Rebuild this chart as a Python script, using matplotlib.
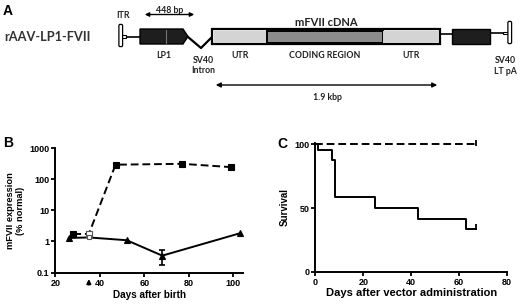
import numpy as np
import matplotlib.pyplot as plt
from matplotlib.patches import Polygon, Rectangle, FancyBboxPatch

# ---- panel A: construct layout (pixel units along the construct) ----
part_names = ["LP1", "UTR", "CODING REGION", "UTR", ""]
part_start = [140, 214, 267, 383, 452]
part_end = [188, 267, 383, 439, 490]
part_color = ["#1e1e1e", "#d4d4d4", "#8c8c8c", "#d4d4d4", "#1e1e1e"]
cdna_span = (212, 440)

# ---- panel B: mFVII expression ----
days_treated = [28, 35, 47, 77, 99]
fvii_treated = [1.75, 1.75, 300, 320, 250]
days_control = [26, 35, 52, 68, 103]
fvii_control = [1.3, 1.35, 1.1, 0.35, 1.85]
err_day = 68
err_low, err_high = 0.18, 0.54
vector_day = 35

# ---- panel C: survival ----
surv_treated_t = [0, 67]
surv_treated = [100, 100]
surv_control_t = [0, 1, 7, 8, 25, 43, 63, 67]
surv_control = [100, 95.8, 87.5, 58.3, 50, 41.7, 33.3, 33.3]

fig = plt.figure(figsize=(5.2, 3.04), dpi=100)

# overlay axes in pixel coordinates for the diagram
axA = fig.add_axes([0, 0, 1, 1])
axA.set_xlim(0, 520)
axA.set_ylim(304, 0)
axA.axis("off")

dfont = dict(family="Lato", weight="bold", color="#222222")
axA.text(3, 11, "A", fontsize=10, va="center", ha="left", family="Liberation Sans", weight="bold")
axA.text(4, 37, "rAAV-LP1-FVII", fontsize=9.2, va="center", ha="left", family="Lato", weight="bold", color="#333333")

yt, yb = 29, 44
ymid = 36.5
# backbone lines
axA.plot([124, 140], [ymid, ymid], color="black", lw=1.2, zorder=1)
axA.plot([440, 452], [34, 34], color="black", lw=1.2, zorder=1)
axA.plot([490, 508], [33, 33], color="black", lw=1.2, zorder=1)
# SV40 intron V
axA.plot([188, 201, 212], [37, 48, 37], color="black", lw=1.6, zorder=1)

# ITRs
for xi, y0, y1, ys, x2 in [(119.5, 25, 46, 36.5, 126), (508.5, 22, 43, 33, 503)]:
    axA.add_patch(FancyBboxPatch((xi, y0), 2.5, y1 - y0, boxstyle="round,pad=0.6,rounding_size=1.3",
                                 fc="white", ec="black", lw=0.9, zorder=3))
    axA.add_patch(Rectangle((min(xi + 1.25, x2), ys - 1.2), abs(x2 - xi - 1.25), 2.4,
                            fc="white", ec="black", lw=0.8, zorder=2))

# cDNA outer box
axA.add_patch(Rectangle((cdna_span[0], yt), cdna_span[1] - cdna_span[0], yb - yt,
                        fc="white", ec="black", lw=1.6, zorder=2))
for name, s, e, c in zip(part_names, part_start, part_end, part_color):
    if name == "LP1":
        axA.add_patch(Polygon([(s, yt), (e - 5, yt), (e, ymid), (e - 5, yb), (s, yb)],
                              closed=True, fc=c, ec="black", lw=1.0, zorder=3))
        axA.plot([166, 166], [yt + 1, yb - 1], color="#777777", lw=0.8, zorder=4)
    elif c == "#1e1e1e":
        axA.add_patch(Rectangle((s, yt), e - s, yb - yt, fc=c, ec="black", lw=1.0, zorder=3))
    else:
        axA.add_patch(Rectangle((s, yt + 1.5), e - s, yb - yt - 3, fc=c,
                                ec="black" if name == "CODING REGION" else "none", lw=1.4, zorder=3))
    if name:
        axA.text((s + e) / 2, 55.5, name, fontsize=6.3, ha="center", va="center", **dfont)

axA.text(123, 16, "ITR", fontsize=6.3, ha="center", va="center", **dfont)
axA.text(170, 10.5, "448 bp", fontsize=6.3, ha="center", va="center", **dfont)
axA.annotate("", xy=(142, 14.5), xytext=(197, 14.5),
             arrowprops=dict(arrowstyle="<|-|>", color="black", lw=1.0, mutation_scale=6))
axA.text(326, 22, "mFVII cDNA", fontsize=8, ha="center", va="center", **dfont)
axA.text(203, 65.5, "SV40\nIntron", fontsize=6.3, ha="center", va="center", linespacing=1.25, **dfont)
axA.text(505, 66, "SV40\nLT pA", fontsize=6.3, ha="center", va="center", linespacing=1.25, **dfont)
axA.annotate("", xy=(213, 85), xytext=(440, 85),
             arrowprops=dict(arrowstyle="<|-|>", color="black", lw=1.0, mutation_scale=7))
axA.text(327, 97, "1.9 kbp", fontsize=6.3, ha="center", va="center", **dfont)

tfont = dict(family="Liberation Sans", weight="bold")


def style(ax):
    for sp in ["top", "right"]:
        ax.spines[sp].set_visible(False)
    for sp in ["left", "bottom"]:
        ax.spines[sp].set_linewidth(1.4)
    ax.tick_params(length=3, width=1.3, labelsize=6.5, pad=1.5)
    for lab in ax.get_xticklabels() + ax.get_yticklabels():
        lab.set_fontfamily("Liberation Sans")
        lab.set_fontweight("bold")


# ---- panel B ----
axB = fig.add_axes([0.1067, 0.1036, 0.3615, 0.408])
axB.set_yscale("log")
axB.plot(days_treated, fvii_treated, color="black", lw=1.4, ls=(0, (4, 2)), zorder=2, clip_on=False)
axB.plot(days_control, fvii_control, color="black", lw=1.4, zorder=2, clip_on=False)
fill_t = ["black" if d != vector_day else "white" for d in days_treated]
fill_c = ["black" if d != vector_day else "white" for d in days_control]
for d, v, fc in zip(days_treated, fvii_treated, fill_t):
    axB.plot(d, v, marker="s", ms=3.8, mfc=fc, mec="black" if fc == "black" else "#555555",
             mew=0.8, zorder=3, clip_on=False)
for d, v, fc in zip(days_control, fvii_control, fill_c):
    axB.plot(d, v, marker="^" if fc == "black" else "s", ms=3.8 if fc == "black" else 3.2,
             mfc=fc, mec="black" if fc == "black" else "#555555", mew=0.8, zorder=3, clip_on=False)
i = days_control.index(err_day)
axB.errorbar([err_day], [fvii_control[i]],
             yerr=[[fvii_control[i] - err_low], [err_high - fvii_control[i]]],
             fmt="none", ecolor="black", elinewidth=1.2, capsize=2.5, capthick=1.2, zorder=3)
axB.set_xlim(20, 104.5)
axB.set_ylim(0.1, 1000)
axB.set_xticks([20, 40, 60, 80, 100])
axB.set_yticks([0.1, 1, 10, 100, 1000])
axB.set_yticklabels(["0.1", "1", "10", "100", "1000"])
axB.minorticks_off()
style(axB)
axB.set_xlabel("Days after birth", fontsize=7.2, labelpad=1.5, **tfont)
axB.set_ylabel("mFVII expression\n(% normal)", fontsize=6.7, labelpad=3, linespacing=1.1, **tfont)
axB.annotate("", xy=(vector_day, -0.03), xytext=(vector_day, -0.12),
             xycoords=("data", "axes fraction"), textcoords=("data", "axes fraction"),
             arrowprops=dict(arrowstyle="-|>", color="black", lw=1.3, mutation_scale=6))
axA.text(3, 143, "B", fontsize=10, va="center", ha="left", **tfont)

# ---- panel C ----
axC = fig.add_axes([0.6067, 0.1063, 0.3683, 0.4243])
axC.step(surv_treated_t, surv_treated, where="post", color="black", lw=1.4,
         ls=(0, (4, 2)), clip_on=False)
axC.step(surv_control_t, surv_control, where="post", color="black", lw=1.4, clip_on=False)
axC.plot([surv_treated_t[-1]], [surv_treated[-1] + 1], marker="|", ms=4, mew=1.3, color="black", clip_on=False)
axC.plot([surv_control_t[-1]], [surv_control[-1] + 1.5], marker="|", ms=4, mew=1.3, color="black", clip_on=False)
axC.set_xlim(0, 80)
axC.set_ylim(0, 101.3)
axC.set_xticks([0, 20, 40, 60, 80])
axC.set_yticks([0, 50, 100])
style(axC)
axC.set_xlabel("Days after vector administration", fontsize=8, labelpad=1, **tfont)
axC.set_ylabel("Survival", fontsize=7, labelpad=3, **tfont)
axA.text(277, 144, "C", fontsize=10, va="center", ha="left", **tfont)

fig.savefig("out.png", dpi=100)
